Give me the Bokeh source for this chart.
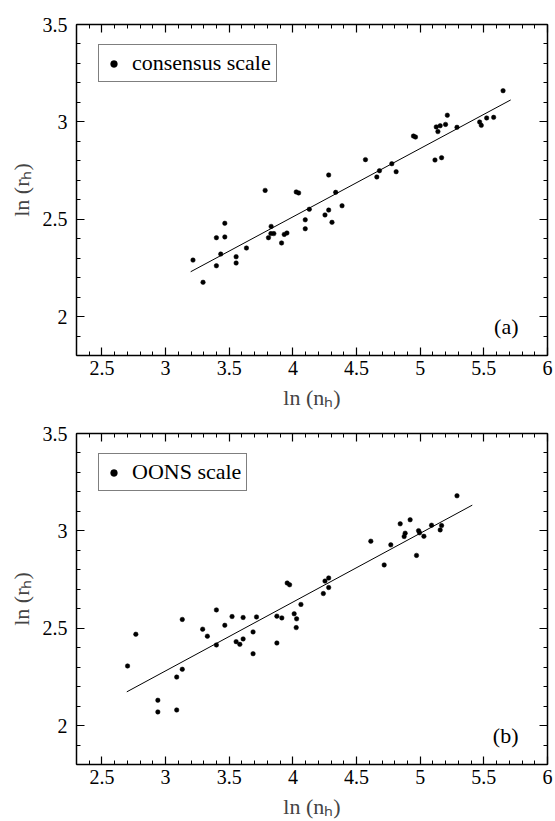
import numpy as np
from bokeh.plotting import figure
from bokeh.models import (Range1d, LinearAxis, FixedTicker, CustomJSTickFormatter,
                          Label, Legend, LegendItem)
from bokeh.layouts import column
from bokeh.embed import file_html
from bokeh.resources import INLINE

# ---------------- data ----------------
consensus_x = [5.651, 5.522, 5.577, 5.467, 5.480, 5.289, 5.213, 5.199, 5.157, 5.126,
               5.139, 4.947, 4.963, 5.116, 5.168, 4.570, 4.777, 4.680, 4.659, 4.811,
               4.281, 4.336, 4.386, 3.782, 4.026, 4.045, 4.129, 4.097, 4.097, 4.252,
               4.281, 4.307, 3.829, 3.808, 3.827, 3.850, 3.911, 3.932, 3.953, 3.465,
               3.399, 3.465, 3.433, 3.399, 3.554, 3.554, 3.635, 3.215, 3.294]
consensus_y = [3.160, 3.020, 3.023, 2.999, 2.982, 2.972, 3.034, 2.987, 2.980, 2.974,
               2.950, 2.927, 2.922, 2.804, 2.816, 2.806, 2.785, 2.749, 2.717, 2.744,
               2.727, 2.638, 2.569, 2.648, 2.640, 2.635, 2.551, 2.497, 2.451, 2.522,
               2.547, 2.484, 2.463, 2.405, 2.426, 2.426, 2.378, 2.422, 2.429, 2.479,
               2.405, 2.409, 2.321, 2.261, 2.307, 2.275, 2.352, 2.290, 2.176]

oons_x = [5.289, 4.921, 4.843, 5.089, 5.168, 5.157, 4.987, 4.995, 5.029, 4.882,
          4.874, 4.769, 4.612, 4.971, 4.717, 4.281, 4.252, 4.281, 4.239, 3.955,
          3.974, 4.063, 4.010, 4.029, 4.026, 3.874, 3.913, 3.874, 3.714, 3.687,
          3.687, 3.609, 3.609, 3.583, 3.554, 3.522, 3.465, 3.399, 3.399, 3.328,
          3.291, 3.131, 3.131, 3.087, 3.087, 2.939, 2.939, 2.766, 2.701]
oons_y = [3.180, 3.057, 3.036, 3.029, 3.027, 3.005, 3.001, 2.990, 2.972, 2.988,
          2.971, 2.928, 2.947, 2.874, 2.825, 2.758, 2.742, 2.709, 2.678, 2.732,
          2.723, 2.622, 2.574, 2.548, 2.503, 2.562, 2.553, 2.424, 2.558, 2.481,
          2.369, 2.555, 2.445, 2.417, 2.431, 2.560, 2.515, 2.594, 2.414, 2.459,
          2.495, 2.545, 2.289, 2.249, 2.080, 2.130, 2.070, 2.469, 2.306]

# linear fits drawn in the reference: slope, intercept, x start, x end
consensus_fit_slope = 0.351
consensus_fit_intercept = 1.108
consensus_fit_xrange = [3.197, 5.711]

oons_fit_slope = 0.3533
oons_fit_intercept = 1.221
oons_fit_xrange = [2.695, 5.409]

x_tick_values = [2.5, 3.0, 3.5, 4.0, 4.5, 5.0, 5.5, 6.0]
x_tick_labels = ["2.5", "3", "3.5", "4", "4.5", "5", "5.5", "6"]
y_tick_values = [2.0, 2.5, 3.0, 3.5]
y_tick_labels = ["2", "2.5", "3", "3.5"]

series_names = ["consensus scale", "OONS scale"]
panel_tags = ["(a)", "(b)"]
x_label = "ln (nₕ)"
y_label = "ln (rₕ)"

# ---------------- styling ----------------
FONT = "Liberation Serif"
X_MIN, X_MAX = 2.3, 6.0
Y_MIN, Y_MAX = 1.8, 3.5
x_minor = [round(v, 1) for v in np.arange(X_MIN, X_MAX + 1e-6, 0.1)]
y_minor = [round(v, 1) for v in np.arange(Y_MIN, Y_MAX + 1e-6, 0.1)]


def label_formatter(values, labels):
    return CustomJSTickFormatter(args=dict(vals=values, labs=labels), code="""
        for (let i = 0; i < vals.length; i++) {
            if (Math.abs(vals[i] - tick) < 1e-6) { return labs[i]; }
        }
        return "";
    """)


def style_axis(ax, ticks, minor, labels, show_labels):
    ax.ticker = FixedTicker(ticks=ticks, minor_ticks=minor)
    ax.axis_line_color = "black"
    ax.axis_line_width = 1.5
    ax.major_tick_in = 8
    ax.major_tick_out = 0
    ax.major_tick_line_color = "black"
    ax.major_tick_line_width = 1.2
    ax.minor_tick_in = 4
    ax.minor_tick_out = 0
    ax.minor_tick_line_color = "black"
    ax.minor_tick_line_width = 1
    if show_labels:
        ax.formatter = label_formatter(ticks, labels)
        ax.major_label_text_font = FONT
        ax.major_label_text_font_size = "20px"
        ax.major_label_text_color = "black"
    else:
        ax.formatter = CustomJSTickFormatter(code="return '';")
        ax.major_label_text_font_size = "0px"
        ax.major_label_standoff = 0
        ax.axis_label_standoff = 0


def make_panel(xs, ys, slope, intercept, xr, name, tag, top_border, bottom_border):
    p = figure(frame_width=471, frame_height=331,
               x_range=Range1d(X_MIN, X_MAX), y_range=Range1d(Y_MIN, Y_MAX),
               output_backend="svg", toolbar_location=None,
               min_border_left=76, min_border_right=8,
               min_border_top=top_border, min_border_bottom=bottom_border,
               background_fill_color="white", border_fill_color="white")
    p.outline_line_color = None
    p.xgrid.visible = False
    p.ygrid.visible = False

    bottom = p.below[0]
    left = p.left[0]
    top = LinearAxis()
    right = LinearAxis()
    p.add_layout(top, "above")
    p.add_layout(right, "right")

    style_axis(bottom, x_tick_values, x_minor, x_tick_labels, True)
    style_axis(top, x_tick_values, x_minor, x_tick_labels, False)
    style_axis(left, y_tick_values, y_minor, y_tick_labels, True)
    style_axis(right, y_tick_values, y_minor, y_tick_labels, False)

    bottom.major_label_standoff = 5
    bottom.axis_label = x_label
    bottom.axis_label_text_font = FONT
    bottom.axis_label_text_font_size = "22px"
    bottom.axis_label_text_font_style = "normal"
    bottom.axis_label_standoff = 7

    left.major_label_standoff = 9
    left.axis_label = y_label
    left.axis_label_text_font = FONT
    left.axis_label_text_font_size = "22px"
    left.axis_label_text_font_style = "normal"
    left.axis_label_standoff = 6

    fx = np.array(xr)
    p.line(fx, intercept + slope * fx, line_color="black", line_width=1)
    r = p.scatter(xs, ys, marker="circle", size=4.5, fill_color="black",
                  line_color="black", line_width=0.5)

    legend = Legend(items=[LegendItem(label=name, renderers=[r])],
                    location=(22, 273), margin=0, padding=5, spacing=0,
                    glyph_width=19, glyph_height=17, label_standoff=9,
                    label_text_font=FONT, label_text_font_size="22px",
                    label_text_color="black",
                    border_line_color="black", border_line_width=1,
                    background_fill_color="white", background_fill_alpha=1)
    p.add_layout(legend)

    p.add_layout(Label(x=5.772, y=1.95, text=tag, text_align="right",
                       text_baseline="alphabetic", text_font=FONT,
                       text_font_size="22px", text_color="black"))
    return p


pa = make_panel(consensus_x, consensus_y, consensus_fit_slope, consensus_fit_intercept,
                consensus_fit_xrange, series_names[0], panel_tags[0], 24, 62)
pb = make_panel(oons_x, oons_y, oons_fit_slope, oons_fit_intercept,
                oons_fit_xrange, series_names[1], panel_tags[1], 16, 57)

layout = column(pa, pb, spacing=0)
open("out.html", "w").write(file_html(layout, INLINE))
